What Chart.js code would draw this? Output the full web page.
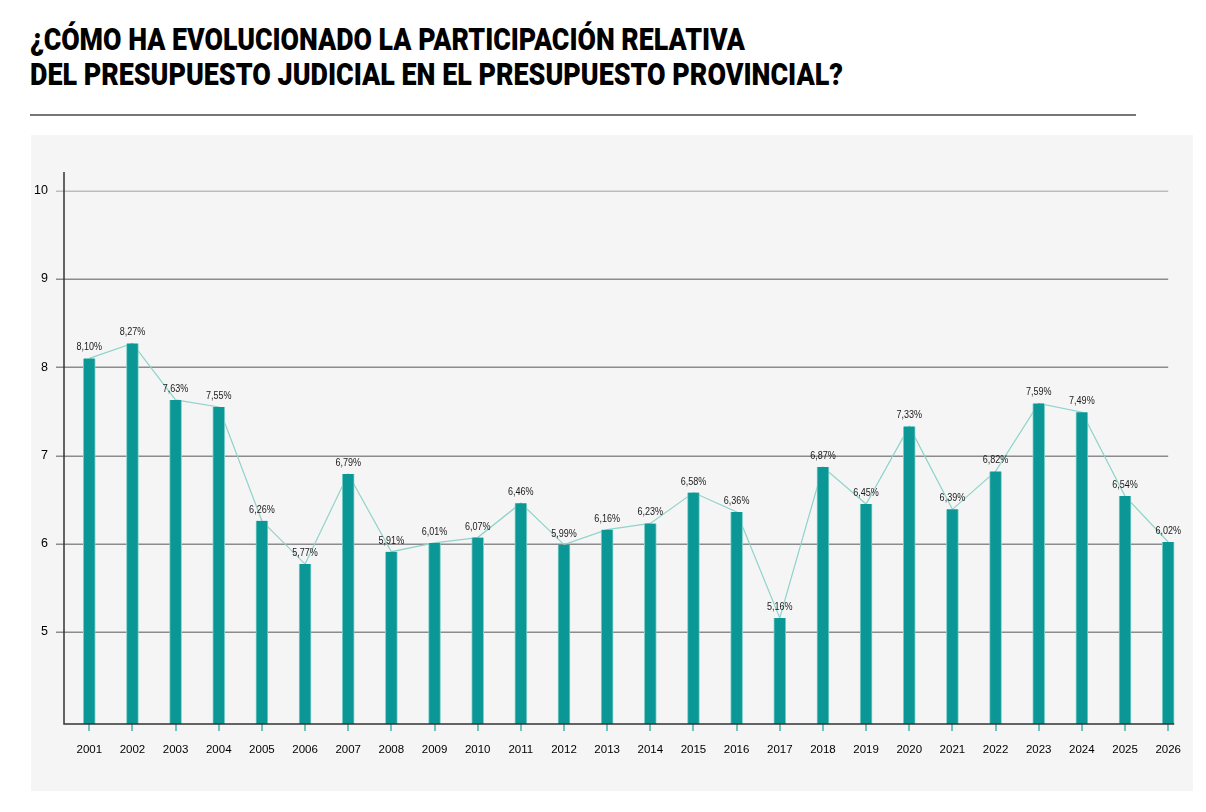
<!DOCTYPE html>
<html lang="es">
<head>
<meta charset="utf-8">
<title>Participación del presupuesto judicial</title>
<script src="https://cdn.jsdelivr.net/npm/chart.js@4.4.1/dist/chart.umd.min.js"></script>
<style>
  html, body { margin: 0; padding: 0; background: #fff; }
  body { position: relative; width: 1206px; height: 812px; overflow: hidden; }
  .title {
    position: absolute; left: 30px;
    font-family: Roboto, "Liberation Sans", sans-serif;
    font-weight: 900; font-size: 31px; line-height: 31px; color: #000;
    white-space: nowrap; transform-origin: 0 0;
  }
  #rule { position: absolute; left: 30px; top: 114px; width: 1106px; height: 2px; background: #777; }
  #panel { position: absolute; left: 31px; top: 135px; width: 1162px; height: 656px; background: #f5f5f5; }
  #chart { display: block; }
</style>
</head>
<body>
<div class="title" id="t1" data-w="715" style="top:24px">¿CÓMO HA EVOLUCIONADO LA PARTICIPACIÓN RELATIVA</div>
<div class="title" id="t2" data-w="813" style="top:59px">DEL PRESUPUESTO JUDICIAL EN EL PRESUPUESTO PROVINCIAL?</div>
<div id="rule"></div>
<div id="panel"><canvas id="chart" width="1162" height="656"></canvas></div>

<script>
// datos: participación del presupuesto judicial (%)
const years = ['2001', '2002', '2003', '2004', '2005', '2006', '2007', '2008', '2009', '2010',
  '2011', '2012', '2013', '2014', '2015', '2016', '2017', '2018', '2019', '2020',
  '2021', '2022', '2023', '2024', '2025', '2026'];
const shares = [8.10, 8.27, 7.63, 7.55, 6.26, 5.77, 6.79, 5.91, 6.01, 6.07,
  6.46, 5.99, 6.16, 6.23, 6.58, 6.36, 5.16, 6.87, 6.45, 7.33,
  6.39, 6.82, 7.59, 7.49, 6.54, 6.02];
const yTicks = [5, 6, 7, 8, 9, 10];

// ajustar el ancho del título (la fuente original es condensada)
document.querySelectorAll('.title').forEach(el => {
  const w = el.getBoundingClientRect().width;
  el.style.transform = 'scaleX(' + (Number(el.dataset.w) / w) + ')';
});

const TEAL = '#0a9795';
const SANS = '"Liberation Sans", Arial, sans-serif';

// líneas de la grilla y ejes dibujados a mano (llegan sólo hasta la última barra)
const frame = {
  id: 'frame',
  beforeDatasetsDraw(chart) {
    const { ctx, chartArea, scales: { x, y } } = chart;
    const axisX = chartArea.left - 3.7;
    const endX = x.getPixelForValue(years.length - 1);
    ctx.save();
    ctx.lineWidth = 1.5;
    yTicks.forEach(v => {
      const py = Math.round(y.getPixelForValue(v)) + 0.25;
      ctx.strokeStyle = v === 10 ? '#bdbdbd' : '#8c8c8c';
      ctx.beginPath();
      ctx.moveTo(axisX - 8, py);
      ctx.lineTo(endX, py);
      ctx.stroke();
    });
    ctx.restore();
  },
  afterDatasetsDraw(chart) {
    const { ctx, chartArea, scales: { x } } = chart;
    const axisX = chartArea.left - 3.7;
    const endX = x.getPixelForValue(years.length - 1) + 6;
    ctx.save();
    ctx.strokeStyle = '#333';
    ctx.lineWidth = 1.5;
    ctx.beginPath();
    ctx.moveTo(axisX, chartArea.top);
    ctx.lineTo(axisX, chartArea.bottom);
    ctx.lineTo(endX, chartArea.bottom);
    ctx.stroke();
    ctx.restore();

    // etiquetas de valor sobre cada barra (texto estrechado como en el original)
    const bars = chart.getDatasetMeta(0).data;
    bars.forEach((bar, i) => {
      ctx.save();
      ctx.translate(bar.x, bar.y - 8);
      ctx.scale(0.82, 1);
      ctx.fillStyle = '#1a1a1a';
      ctx.font = '11px ' + SANS;
      ctx.textAlign = 'center';
      ctx.textBaseline = 'alphabetic';
      ctx.fillText(shares[i].toFixed(2).replace('.', ',') + '%', 0, 0);
      ctx.restore();
    });
  }
};

new Chart(document.getElementById('chart'), {
  type: 'bar',
  data: {
    labels: years,
    datasets: [{
      label: 'Participación (%)',
      data: shares,
      backgroundColor: TEAL,
      borderColor: '#80d0c9',
      borderWidth: { left: 1, right: 1, top: 0, bottom: 0 },
      barThickness: 12,
      order: 1
    }, {
      type: 'line',
      label: 'Tendencia',
      data: shares,
      borderColor: '#8fd3cb',
      borderWidth: 1.2,
      pointRadius: 0,
      tension: 0,
      order: 2
    }]
  },
  options: {
    responsive: false,
    animation: false,
    layout: { padding: { top: 37, right: 1.4, bottom: 0, left: 0 } },
    plugins: {
      legend: { display: false },
      tooltip: { enabled: false }
    },
    scales: {
      x: {
        grid: {
          display: true, drawOnChartArea: false, drawTicks: true,
          tickLength: 7, color: '#6cc4bd', lineWidth: 2, offset: false
        },
        border: { display: false },
        ticks: { padding: 12, color: '#000', font: { family: SANS, size: 11.5 }, maxRotation: 0 },
        afterFit(scale) { scale.height = 67; }
      },
      y: {
        min: 3.958,
        max: 10.212,
        grid: { display: false, drawTicks: false },
        border: { display: false },
        afterBuildTicks(scale) { scale.ticks = yTicks.map(v => ({ value: v })); },
        ticks: { padding: 19.7, color: '#000', font: { family: SANS, size: 12.5 } },
        afterFit(scale) { scale.width = 36.7; }
      }
    }
  },
  plugins: [frame]
});
</script>
</body>
</html>
